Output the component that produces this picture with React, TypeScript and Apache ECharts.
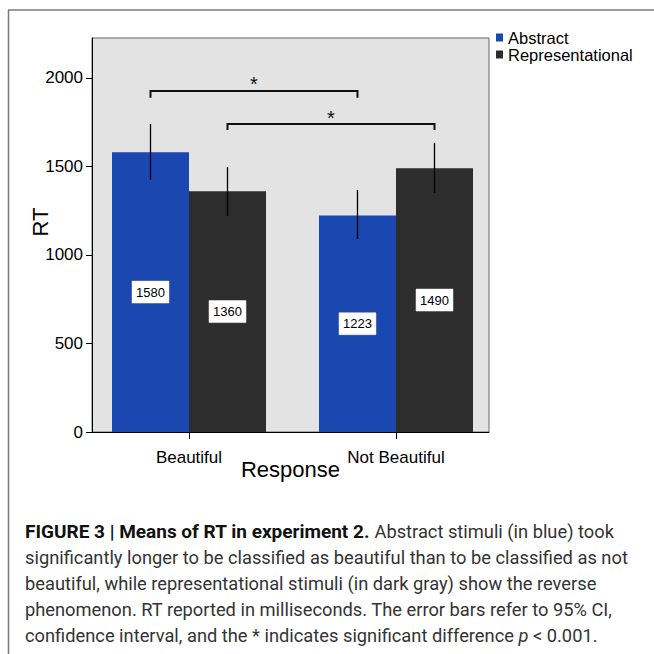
import React, { useEffect, useRef } from "react";
import * as echarts from "echarts";

const categories = ["Beautiful", "Not Beautiful"];
const seriesNames = ["Abstract", "Representational"];
const abstractRT = [1580, 1223];
const representationalRT = [1360, 1490];
const abstractCI = [
  [1424, 1740],
  [1090, 1367],
];
const representationalCI = [
  [1220, 1497],
  [1350, 1633],
];
const yTicks = [0, 500, 1000, 1500, 2000];
// [category1, series1, category2, series2, bracketY, tipY, starY]
const brackets = [
  [0, 0, 1, 0, 1926, 1887, 1968],
  [0, 1, 1, 1, 1740, 1706, 1775],
];
const captionLines = [
  "{b|FIGURE 3 | Means of RT in experiment 2.} Abstract stimuli (in blue) took",
  "significantly longer to be classified as beautiful than to be classified as not",
  "beautiful, while representational stimuli (in dark gray) show the reverse",
  "phenomenon. RT reported in milliseconds. The error bars refer to 95% CI,",
  "confidence interval, and the * indicates significant difference {i|p} < 0.001.",
];

const BLUE = "#1b47b1";
const DARK = "#2d2d2d";
const BAR_W = 77;
const FONT = "'Liberation Sans', Arial, sans-serif";
const CAP_FONT = "Roboto, 'Liberation Sans', sans-serif";
const CAP_SIZE = 18.3;

export default function App() {
  const ref = useRef<HTMLDivElement>(null);
  useEffect(() => {
    const chart = echarts.init(ref.current!, null, { renderer: "svg" });
    const barLabel = {
      show: true,
      position: "inside",
      formatter: (p: any) => String(p.value[1]),
      color: "#000",
      fontSize: 13,
      fontFamily: FONT,
      backgroundColor: "#fff",
      borderColor: "#999",
      borderWidth: 0.5,
      padding: [5, 4, 4, 4],
    };
    const errData = [
      ...abstractCI.map((ci, i) => [i, ci[0], ci[1], 0]),
      ...representationalCI.map((ci, i) => [i, ci[0], ci[1], 1]),
    ];
    const option: any = {
      animation: false,
      backgroundColor: "#fff",
      grid: {
        left: 92,
        top: 38,
        width: 397,
        height: 394,
        show: true,
        backgroundColor: "#e3e3e3",
        borderColor: "#666",
        borderWidth: 1,
        containLabel: false,
      },
      legend: {
        orient: "vertical",
        left: 496,
        top: 29,
        padding: 0,
        itemWidth: 7,
        itemHeight: 8,
        itemGap: 0,
        icon: "rect",
        textStyle: { fontSize: 16.5, color: "#000", fontFamily: FONT, lineHeight: 15 },
        data: seriesNames,
      },
      xAxis: {
        type: "value",
        min: -0.4686,
        max: 1.4493,
        splitLine: { show: false },
        axisLine: { show: true, onZero: false, lineStyle: { color: "#000", width: 1 } },
        axisTick: { show: true, length: 7, customValues: [0, 1], lineStyle: { color: "#000" } },
        axisLabel: {
          customValues: [0, 1],
          formatter: (v: number) => categories[Math.round(v)] ?? "",
          fontSize: 17,
          color: "#000",
          fontFamily: FONT,
          margin: 17,
        },
        name: "Response",
        nameLocation: "middle",
        nameGap: 26,
        nameMoveOverlap: false,
        nameTextStyle: { fontSize: 22, color: "#000", fontFamily: FONT },
      },
      yAxis: {
        type: "value",
        min: 0,
        max: 2225,
        splitLine: { show: false },
        axisLine: { show: true, onZero: false, lineStyle: { color: "#000", width: 1 } },
        axisTick: { show: true, length: 6, customValues: yTicks, lineStyle: { color: "#000" } },
        axisLabel: {
          customValues: yTicks,
          formatter: (v: number) => String(v),
          fontSize: 17,
          color: "#000",
          fontFamily: FONT,
          margin: 9,
        },
        name: "RT",
        nameLocation: "middle",
        nameGap: 41,
        nameMoveOverlap: false,
        nameTextStyle: { fontSize: 22, color: "#000", fontFamily: FONT, padding: [0, 0, 0, 26] },
      },
      series: [
        {
          name: seriesNames[0],
          type: "bar",
          barWidth: BAR_W,
          barGap: "0%",
          itemStyle: { color: BLUE },
          label: barLabel,
          data: abstractRT.map((v, i) => [i, v]),
        },
        {
          name: seriesNames[1],
          type: "bar",
          barWidth: BAR_W,
          barGap: "0%",
          itemStyle: { color: DARK },
          label: barLabel,
          data: representationalRT.map((v, i) => [i, v]),
        },
        {
          type: "custom",
          z: 5,
          silent: true,
          renderItem: (_p: any, api: any) => {
            const x = api.value(0);
            const lo = api.coord([x, api.value(1)]);
            const hi = api.coord([x, api.value(2)]);
            const dx = (api.value(3) === 0 ? -1 : 1) * (BAR_W / 2);
            return {
              type: "line",
              shape: { x1: lo[0] + dx, y1: lo[1], x2: hi[0] + dx, y2: hi[1] },
              style: { stroke: "#000", lineWidth: 1.3 },
            };
          },
          data: errData,
        },
        {
          type: "custom",
          z: 5,
          silent: true,
          renderItem: (_p: any, api: any) => {
            const off = (s: number) => (s === 0 ? -1 : 1) * (BAR_W / 2);
            const a = api.coord([api.value(0), api.value(4)]);
            const b = api.coord([api.value(2), api.value(4)]);
            const tip = api.coord([api.value(0), api.value(5)])[1];
            const star = api.coord([api.value(0), api.value(6)])[1];
            const x1 = a[0] + off(api.value(1));
            const x2 = b[0] + off(api.value(3));
            return {
              type: "group",
              children: [
                {
                  type: "polyline",
                  shape: { points: [[x1, tip], [x1, a[1]], [x2, a[1]], [x2, tip]] },
                  style: { stroke: "#111", lineWidth: 2, fill: "none" },
                },
                {
                  type: "text",
                  style: {
                    text: "*",
                    x: (x1 + x2) / 2,
                    y: star,
                    align: "center",
                    verticalAlign: "middle",
                    fontSize: 20,
                    fontFamily: FONT,
                    fill: "#111",
                  },
                },
              ],
            };
          },
          data: brackets,
        },
      ],
      graphic: [
        { type: "line", shape: { x1: 8, y1: 10, x2: 654, y2: 10 }, style: { stroke: "#7a7a7a", lineWidth: 1.5 } },
        { type: "line", shape: { x1: 8.5, y1: 10, x2: 8.5, y2: 654 }, style: { stroke: "#7a7a7a", lineWidth: 1.5 } },
        ...captionLines.map((t, i) => ({
          type: "text",
          left: 25,
          top: 522 + i * 26,
          style: {
            text: t,
            fontSize: CAP_SIZE,
            fontFamily: CAP_FONT,
            fill: "#333",
            rich: {
              b: { fontWeight: "bold", fontSize: 19, fill: "#111", fontFamily: CAP_FONT },
              i: { fontStyle: "italic", fontSize: CAP_SIZE, fill: "#333", fontFamily: CAP_FONT },
            },
          },
        })),
      ],
    };
    chart.setOption(option);
    return () => chart.dispose();
  }, []);
  return (
    <div
      ref={ref}
      style={{ position: "fixed", left: 0, top: 0, width: 654, height: 654 }}
    />
  );
}
